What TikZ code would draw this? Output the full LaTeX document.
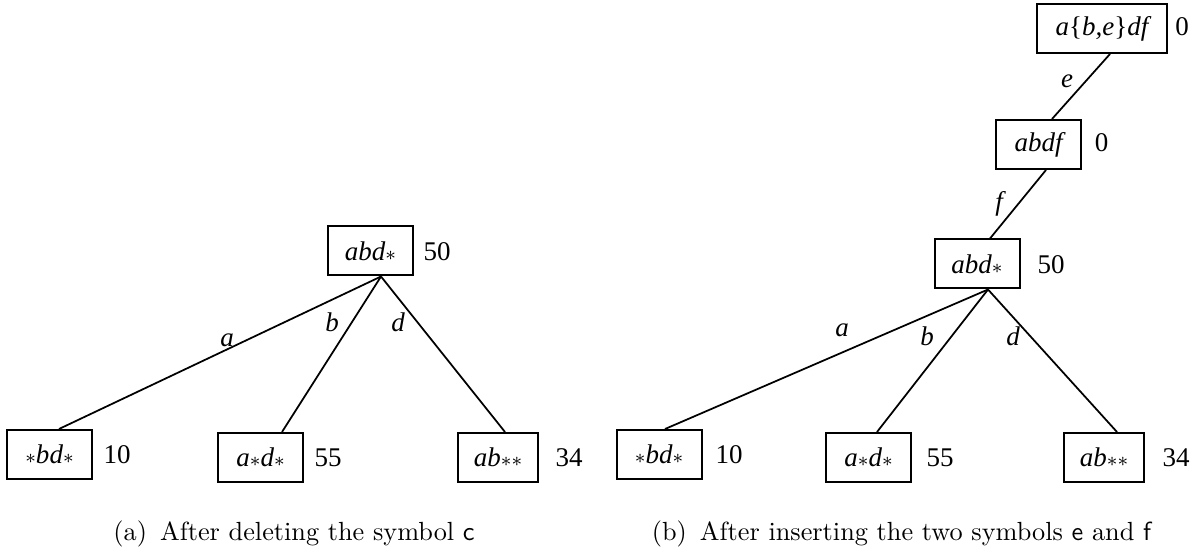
\documentclass[tikz,border=0pt]{standalone}
\usepackage{fontspec}
\newfontfamily\tms{Liberation Serif}
\usetikzlibrary{calc}
% small asterisk sitting just above the baseline, used in the pattern strings
\newcommand\st{\ensuremath{\scriptstyle\ast}}
% upright set braces inside the italic patterns
\newcommand\lbr{{\upshape\{}}
\newcommand\rbr{{\upshape\}}}

\begin{document}
\begin{tikzpicture}[x=0.4pt,y=-0.4pt,
  tbox/.style={draw, line width=0.8pt, minimum width=34pt, minimum height=19.6pt,
               inner sep=0pt, font=\tms\itshape\fontsize{10.8}{13}\selectfont},
  val/.style={anchor=base, inner sep=0pt, font=\tms\fontsize{10.8}{13}\selectfont},
  elab/.style={inner sep=0pt, font=\tms\itshape\fontsize{10.8}{13}\selectfont},
  branch/.style={line width=0.7pt},
  subcap/.style={anchor=base, inner sep=0pt, font=\fontsize{10.5}{12.6}\selectfont}]
\useasboundingbox (0,0) rectangle (1200,552);

% ---------- (a) tree after deleting c ----------
\node[tbox] (L0) at (370.5,251)   {abd\st};
\node[tbox] (L1) at (49.5,454.5)  {\st bd\st};
\node[tbox] (L2) at (260.5,457.5) {a\st d\st};
\node[tbox, minimum width=32pt] (L3) at (498,457.5) {ab\st\st};

\node[val] (vL0) at (437,0 |- L0.base) {50};
\node[val] (vL1) at (117,0 |- L1.base) {10};
\node[val] (vL2) at (328,0 |- L2.base) {55};
\node[val] (vL3) at (569,0 |- L3.base) {34};

\coordinate (L0s) at ($(L0.south)+(10.5,0)$);
\coordinate (L1n) at ($(L1.north)+(9.5,0)$);
\coordinate (L2n) at ($(L2.north)+(21.5,0)$);
\coordinate (L3n) at ($(L3.north)+(7,0)$);
\draw[branch] (L0s) -- (L1n);
\draw[branch] (L0s) -- (L2n);
\draw[branch] (L0s) -- (L3n);

\node[elab] (la) at (227,340) {a};
\node[elab] (lb) at (332,322) {b};
\node[elab] (ld) at (398,322) {d};

% ---------- (b) tree after inserting e and f ----------
\node[tbox, minimum width=52pt] (R0) at (1102,28.5) {a\lbr b,e\rbr df};
\node[tbox] (R1) at (1038.5,144.5) {abdf};
\node[tbox] (R2) at (977,264)      {abd\st};
\node[tbox] (R3) at (659,454.5)    {\st bd\st};
\node[tbox] (R4) at (868.5,457.5)  {a\st d\st};
\node[tbox, minimum width=32pt] (R5) at (1104,457.5) {ab\st\st};

\node[val] (vR0) at (1182,0 |- R0.base)   {0};
\node[val] (vR1) at (1101.5,0 |- R1.base) {0};
\node[val] (vR2) at (1051,0 |- R2.base)   {50};
\node[val] (vR3) at (729,0 |- R3.base)    {10};
\node[val] (vR4) at (940,0 |- R4.base)    {55};
\node[val] (vR5) at (1176,0 |- R5.base)   {34};

\coordinate (R0s) at ($(R0.south)+(8,0)$);
\coordinate (R1n) at ($(R1.north)+(13.5,0)$);
\coordinate (R1s) at ($(R1.south)+(7.5,0)$);
\coordinate (R2n) at ($(R2.north)+(13,0)$);
\coordinate (R2s) at ($(R2.south)+(11,0)$);
\coordinate (R3n) at ($(R3.north)+(6,0)$);
\coordinate (R4n) at ($(R4.north)+(8.5,0)$);
\coordinate (R5n) at ($(R5.north)+(13,0)$);
\draw[branch] (R0s) -- (R1n);
\draw[branch] (R1s) -- (R2n);
\draw[branch] (R2s) -- (R3n);
\draw[branch] (R2s) -- (R4n);
\draw[branch] (R2s) -- (R5n);

\node[elab] (re) at (1067,81)  {e};
\node[elab] (rf) at (999,204)  {f};
\node[elab] (ra) at (842,330)  {a};
\node[elab] (rb) at (927,336)  {b};
\node[elab] (rd) at (1013,336) {d};

% ---------- captions ----------
\node[subcap] (capa) at (294,540) {(a)\enspace After deleting the symbol \textsf{c}};
\node[subcap] (capb) at (902,540) {(b)\enspace After inserting the two symbols \textsf{e} and \textsf{f}};
\end{tikzpicture}
\end{document}
